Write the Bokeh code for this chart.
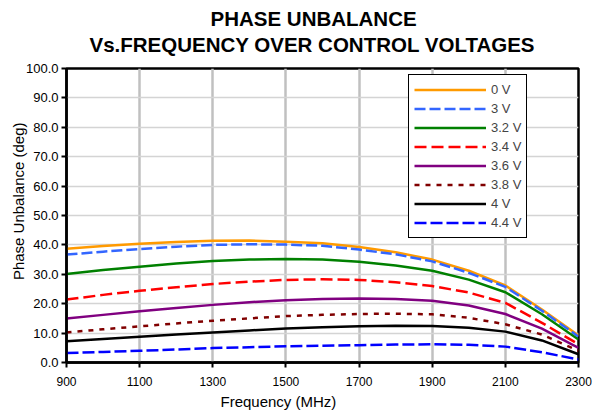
from bokeh.plotting import figure
from bokeh.models import Title, Legend, LegendItem, FixedTicker, NumeralTickFormatter, Range1d
from bokeh.embed import file_html
from bokeh.resources import INLINE

freq = [900, 1000, 1100, 1200, 1300, 1400, 1500, 1600, 1700, 1800, 1900, 2000, 2100, 2200, 2300]
v_0 = [38.7, 39.6, 40.4, 41.0, 41.4, 41.5, 41.1, 40.6, 39.3, 37.5, 35.0, 31.2, 26.2, 18.0, 9.2]
v_3 = [36.7, 37.7, 38.6, 39.4, 40.0, 40.2, 40.1, 39.7, 38.4, 36.8, 34.4, 30.5, 25.7, 17.6, 8.8]
v_3_2 = [30.1, 31.5, 32.6, 33.7, 34.5, 35.0, 35.2, 35.0, 34.3, 33.0, 31.2, 28.2, 23.9, 16.4, 7.8]
v_3_4 = [21.4, 23.0, 24.4, 25.6, 26.7, 27.5, 28.1, 28.3, 28.1, 27.3, 26.0, 23.8, 20.3, 13.5, 6.2]
v_3_6 = [15.0, 16.2, 17.4, 18.5, 19.6, 20.5, 21.2, 21.6, 21.8, 21.6, 21.0, 19.4, 16.5, 11.5, 5.0]
v_3_8 = [10.2, 11.3, 12.3, 13.3, 14.2, 15.0, 15.8, 16.2, 16.5, 16.6, 16.4, 15.2, 13.0, 9.5, 4.0]
v_4 = [7.2, 8.0, 8.8, 9.5, 10.2, 10.9, 11.6, 12.0, 12.3, 12.5, 12.4, 11.8, 10.5, 7.5, 2.8]
v_4_4 = [3.2, 3.6, 4.0, 4.4, 4.9, 5.2, 5.5, 5.7, 5.9, 6.1, 6.2, 6.0, 5.4, 3.5, 1.0]

series_labels = ["0 V", "3 V", "3.2 V", "3.4 V", "3.6 V", "3.8 V", "4 V", "4.4 V"]
series_values = [v_0, v_3, v_3_2, v_3_4, v_3_6, v_3_8, v_4, v_4_4]
colors = ["#FF9A00", "#3366FF", "#008000", "#FF0000", "#800080", "#800000", "#000000", "#0000FF"]
dashes = ["solid", "11 4", "solid", "12 5", "solid", "5 6", "solid", "12 4"]

x_ticks = [900, 1100, 1300, 1500, 1700, 1900, 2100, 2300]
y_ticks = [0, 10, 20, 30, 40, 50, 60, 70, 80, 90, 100]

FONT = "Liberation Sans"

p = figure(width=598, height=416, output_backend="svg", toolbar_location=None,
           title=None, x_range=Range1d(900, 2300), y_range=Range1d(0, 100),
           min_border_left=66, min_border_right=20, min_border_top=68, min_border_bottom=54)
p.background_fill_color = "white"
p.border_fill_color = "white"
p.outline_line_color = "black"
p.outline_line_width = 2.5
p.outline_line_alpha = 1

items = []
for lab, vals, c, d in zip(series_labels, series_values, colors, dashes):
    r = p.line(freq, vals, line_color=c, line_width=2.5, line_dash=d)
    items.append(LegendItem(label=lab, renderers=[r]))

legend = Legend(items=items, location=(342, 124), padding=5, spacing=0,
                glyph_width=72, glyph_height=19, label_height=19, label_standoff=5,
                label_text_font=FONT, label_text_font_size="13px",
                border_line_color="black", border_line_width=1, border_line_alpha=1,
                background_fill_color="white", background_fill_alpha=1, margin=0)
p.add_layout(legend, "center")

for ax in (p.xaxis[0], p.yaxis[0]):
    ax.axis_line_width = 2.5
    ax.axis_line_color = "black"
    ax.major_tick_in = 0
    ax.major_tick_out = 5
    ax.major_tick_line_width = 2
    ax.major_tick_line_color = "black"
    ax.minor_tick_line_color = None
    ax.major_label_text_font = FONT
    ax.major_label_text_color = "black"

p.xaxis.ticker = FixedTicker(ticks=x_ticks)
p.yaxis.ticker = FixedTicker(ticks=y_ticks)
p.yaxis.formatter = NumeralTickFormatter(format="0.0")
p.xaxis.major_label_text_font_size = "12px"
p.yaxis.major_label_text_font_size = "13px"
p.xaxis.major_label_standoff = 9
p.yaxis.major_label_standoff = 3

p.xgrid.ticker = FixedTicker(ticks=x_ticks[1:-1])
p.xgrid.grid_line_color = "#c0c0c0"
p.xgrid.grid_line_width = 2.5
p.ygrid.ticker = FixedTicker(ticks=y_ticks)
p.ygrid.grid_line_color = "#d4d4d4"
p.ygrid.grid_line_width = 1.5

t2 = Title(text="Vs.FREQUENCY OVER CONTROL VOLTAGES", align="left", offset=23,
           text_font=FONT, text_font_size="20.5px", text_font_style="bold",
           text_color="black", standoff=26)
t1 = Title(text="PHASE UNBALANCE", align="left", offset=144,
           text_font=FONT, text_font_size="20.5px", text_font_style="bold",
           text_color="black", standoff=-24)
p.add_layout(t2, "above")
p.add_layout(t1, "above")

ty = Title(text="Phase Unbalance (deg)", align="right", offset=54,
           text_font=FONT, text_font_size="15px", text_font_style="normal",
           text_color="black", standoff=-8)
p.add_layout(ty, "left")

tx = Title(text="Frequency (MHz)", align="left", offset=154,
           text_font=FONT, text_font_size="15px", text_font_style="normal",
           text_color="black", standoff=5)
p.add_layout(tx, "below")

open("out.html", "w").write(file_html(p, INLINE))
